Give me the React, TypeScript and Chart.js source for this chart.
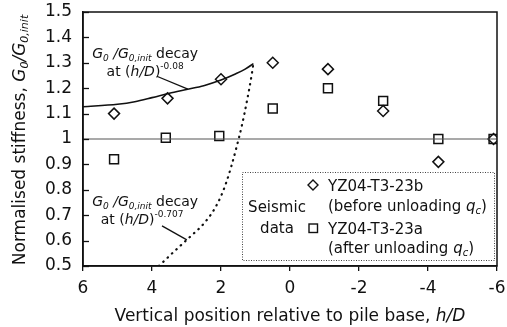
import React, { useEffect, useRef } from "react";
import { Chart, registerables } from "chart.js";

Chart.register(...registerables);

const FONT = "'DejaVu Sans', 'Liberation Sans', Arial, sans-serif";

// Axis ticks
const xTickValues = [6, 4, 2, 0, -2, -4, -6];
const xTickLabels = ["6", "4", "2", "0", "-2", "-4", "-6"];
const yTickValues = [0.5, 0.6, 0.7, 0.8, 0.9, 1.0, 1.1, 1.2, 1.3, 1.4, 1.5];
const yTickLabels = ["0.5", "0.6", "0.7", "0.8", "0.9", "1", "1.1", "1.2", "1.3", "1.4", "1.5"];

// Seismic data: YZ04-T3-23b (before unloading qc) — diamonds
const beforeX = [5.1, 3.55, 2.0, 0.5, -1.1, -2.7, -4.3, -5.9];
const beforeY = [1.10, 1.16, 1.235, 1.30, 1.275, 1.11, 0.91, 1.0];

// Seismic data: YZ04-T3-23a (after unloading qc) — squares
const afterX = [5.1, 3.6, 2.05, 0.5, -1.1, -2.7, -4.3, -5.9];
const afterY = [0.92, 1.005, 1.012, 1.12, 1.2, 1.15, 1.0, 1.0];

// Decay curve (h/D)^-0.08 (solid)
const decaySlowX = [6, 5, 4.5, 4, 3.5, 3, 2.5, 2, 1.6, 1.3, 1.06];
const decaySlowY = [1.127, 1.137, 1.147, 1.163, 1.18, 1.195, 1.21, 1.232, 1.255, 1.275, 1.297];

// Decay curve (h/D)^-0.707 (dotted)
const decayFastX = [3.8, 3.6, 3.4, 3.2, 3.0, 2.8, 2.6, 2.4, 2.2, 2.0, 1.85, 1.7, 1.55, 1.4, 1.25, 1.1, 1.07];
const decayFastY = [0.5, 0.526, 0.552, 0.577, 0.602, 0.627, 0.652, 0.683, 0.722, 0.775, 0.828, 0.893, 0.968, 1.05, 1.148, 1.262, 1.29];

// Reference level
const refX = [6, -6];
const refY = [1, 1];

// Annotation anchors (data coordinates)
const upperNoteAt = [4.2, 1.318];
const upperLeader = [[3.86, 1.247], [2.96, 1.196]];
const lowerNoteAt = [4.2, 0.737];
const lowerLeader = [[3.71, 0.658], [2.99, 0.603]];

type Seg = { t: string; s: number; i?: boolean; dy?: number };

function segFont(s: Seg) {
  return `${s.i ? "italic " : ""}${s.s}px ${FONT}`;
}
function richWidth(ctx: CanvasRenderingContext2D, segs: Seg[]) {
  let w = 0;
  for (const s of segs) {
    ctx.font = segFont(s);
    w += ctx.measureText(s.t).width;
  }
  return w;
}
function drawRich(ctx: CanvasRenderingContext2D, segs: Seg[], x: number, y: number, align: "left" | "center") {
  const w = richWidth(ctx, segs);
  let cx = align === "center" ? x - w / 2 : x;
  ctx.textAlign = "left";
  ctx.textBaseline = "alphabetic";
  for (const s of segs) {
    ctx.font = segFont(s);
    ctx.fillText(s.t, cx, y + (s.dy || 0));
    cx += ctx.measureText(s.t).width;
  }
}

function drawDiamond(ctx: CanvasRenderingContext2D, x: number, y: number, r: number) {
  ctx.beginPath();
  ctx.moveTo(x - r, y);
  ctx.lineTo(x, y - r);
  ctx.lineTo(x + r, y);
  ctx.lineTo(x, y + r);
  ctx.closePath();
  ctx.stroke();
}

const decoPlugin = {
  id: "deco",
  afterDraw(chart: any) {
    const ctx: CanvasRenderingContext2D = chart.ctx;
    const ca = chart.chartArea;
    const xs = chart.scales.x;
    const ys = chart.scales.y;
    ctx.save();
    ctx.fillStyle = "#111";
    ctx.strokeStyle = "#111";

    // frame
    ctx.lineWidth = 1.5;
    ctx.strokeRect(ca.left, ca.top, ca.right - ca.left, ca.bottom - ca.top);

    // inward y ticks
    ctx.lineWidth = 1.3;
    for (const v of yTickValues) {
      const py = Math.round(ys.getPixelForValue(v)) + 0.5;
      ctx.beginPath();
      ctx.moveTo(ca.left, py);
      ctx.lineTo(ca.left + 6, py);
      ctx.stroke();
    }

    // y title
    ctx.save();
    const yt: Seg[] = [
      { t: "Normalised stiffness, ", s: 17 },
      { t: "G", s: 17, i: true },
      { t: "0", s: 11, i: true, dy: 3 },
      { t: "/", s: 17, i: true },
      { t: "G", s: 17, i: true },
      { t: "0,init", s: 11, i: true, dy: 3 },
    ];
    ctx.translate(25, 140);
    ctx.rotate(-Math.PI / 2);
    drawRich(ctx, yt, 0, 0, "center");
    ctx.restore();

    // x title
    const xt: Seg[] = [
      { t: "Vertical position relative to pile base, ", s: 17 },
      { t: "h/D", s: 17, i: true },
    ];
    drawRich(ctx, xt, 290, 321, "center");

    // upper annotation
    const ux = xs.getPixelForValue(upperNoteAt[0]);
    const uy = ys.getPixelForValue(upperNoteAt[1]);
    drawRich(ctx, [
      { t: "G", s: 14, i: true },
      { t: "0", s: 9, i: true, dy: 3 },
      { t: " /", s: 14, i: true },
      { t: "G", s: 14, i: true },
      { t: "0,init", s: 9, i: true, dy: 3 },
      { t: " decay", s: 14 },
    ], ux, uy, "center");
    drawRich(ctx, [
      { t: "at (", s: 14 },
      { t: "h/D", s: 14, i: true },
      { t: ")", s: 14 },
      { t: "-0.08", s: 9, dy: -7 },
    ], ux, uy + 18, "center");
    ctx.lineWidth = 1.3;
    ctx.beginPath();
    ctx.moveTo(xs.getPixelForValue(upperLeader[0][0]), ys.getPixelForValue(upperLeader[0][1]));
    ctx.lineTo(xs.getPixelForValue(upperLeader[1][0]), ys.getPixelForValue(upperLeader[1][1]));
    ctx.stroke();

    // lower annotation
    const lx = xs.getPixelForValue(lowerNoteAt[0]);
    const ly = ys.getPixelForValue(lowerNoteAt[1]);
    drawRich(ctx, [
      { t: "G", s: 14, i: true },
      { t: "0", s: 9, i: true, dy: 3 },
      { t: " /", s: 14, i: true },
      { t: "G", s: 14, i: true },
      { t: "0,init", s: 9, i: true, dy: 3 },
      { t: " decay", s: 14 },
    ], lx, ly, "center");
    drawRich(ctx, [
      { t: "at (", s: 14 },
      { t: "h/D", s: 14, i: true },
      { t: ")", s: 14 },
      { t: "-0.707", s: 9, dy: -7 },
    ], lx - 3, ly + 18, "center");
    ctx.beginPath();
    ctx.moveTo(xs.getPixelForValue(lowerLeader[0][0]), ys.getPixelForValue(lowerLeader[0][1]));
    ctx.lineTo(xs.getPixelForValue(lowerLeader[1][0]), ys.getPixelForValue(lowerLeader[1][1]));
    ctx.stroke();

    // legend box
    const bx = 242.5, by = 172.5, bw = 252, bh = 88;
    ctx.fillStyle = "#fff";
    ctx.fillRect(bx, by, bw, bh);
    ctx.setLineDash([1, 1.5]);
    ctx.lineWidth = 1;
    ctx.strokeStyle = "#444";
    ctx.strokeRect(bx, by, bw, bh);
    ctx.setLineDash([]);
    ctx.fillStyle = "#111";
    ctx.strokeStyle = "#111";
    ctx.font = `15px ${FONT}`;
    ctx.textAlign = "center";
    ctx.textBaseline = "alphabetic";
    ctx.fillText("Seismic", 277, 212);
    ctx.fillText("data", 277, 233);
    ctx.lineWidth = 1.4;
    drawDiamond(ctx, 313, 185, 5);
    ctx.strokeRect(309, 224, 8.5, 8.5);
    drawRich(ctx, [{ t: "YZ04-T3-23b", s: 15 }], 328, 191, "left");
    drawRich(ctx, [
      { t: "(before unloading ", s: 15 },
      { t: "q", s: 15, i: true },
      { t: "c", s: 10, i: true, dy: 3 },
      { t: ")", s: 15 },
    ], 328, 211, "left");
    drawRich(ctx, [{ t: "YZ04-T3-23a", s: 15 }], 328, 234, "left");
    drawRich(ctx, [
      { t: "(after unloading ", s: 15 },
      { t: "q", s: 15, i: true },
      { t: "c", s: 10, i: true, dy: 3 },
      { t: ")", s: 15 },
    ], 328, 253, "left");

    ctx.restore();
  },
};

function pts(xs: number[], ys: number[]) {
  return xs.map((x, i) => ({ x, y: ys[i] }));
}

export default function App() {
  const ref = useRef<HTMLCanvasElement | null>(null);
  useEffect(() => {
    if (!ref.current) return;
    const chart = new Chart(ref.current, {
      type: "scatter",
      data: {
        datasets: [
          {
            label: "ref",
            data: pts(refX, refY),
            showLine: true,
            borderColor: "#555",
            borderWidth: 1.2,
            pointRadius: 0,
          },
          {
            label: "decay -0.08",
            data: pts(decaySlowX, decaySlowY),
            showLine: true,
            borderColor: "#111",
            borderWidth: 1.6,
            pointRadius: 0,
            cubicInterpolationMode: "monotone",
          },
          {
            label: "decay -0.707",
            data: pts(decayFastX, decayFastY),
            showLine: true,
            borderColor: "#111",
            borderWidth: 2.2,
            borderDash: [0.5, 5.5],
            borderCapStyle: "round",
            pointRadius: 0,
            cubicInterpolationMode: "monotone",
          },
          {
            label: "YZ04-T3-23b (before unloading qc)",
            data: pts(beforeX, beforeY),
            pointStyle: "rectRot",
            pointRadius: 5.5,
            borderColor: "#111",
            borderWidth: 1.5,
            backgroundColor: "rgba(0,0,0,0)",
          },
          {
            label: "YZ04-T3-23a (after unloading qc)",
            data: pts(afterX, afterY),
            pointStyle: "rect",
            pointRadius: 6.3,
            borderColor: "#111",
            borderWidth: 1.5,
            backgroundColor: "rgba(0,0,0,0)",
          },
        ],
      } as any,
      options: {
        animation: false,
        responsive: false,
        devicePixelRatio: 1,
        layout: { padding: { top: 12, right: 10, left: 0, bottom: 0 } },
        plugins: { legend: { display: false }, tooltip: { enabled: false } },
        scales: {
          x: {
            type: "linear",
            min: -6,
            max: 6,
            reverse: true,
            afterFit: (s: any) => {
              s.height = 61;
              s.paddingLeft = 0;
              s.paddingRight = 0;
              s.paddingTop = 0;
              s.paddingBottom = 0;
            },
            afterBuildTicks: (s: any) => { s.ticks = xTickValues.map((v) => ({ value: v })); },
            grid: { drawOnChartArea: false, drawTicks: true, tickLength: 5, color: "#111", lineWidth: 1.3 },
            border: { display: true, color: "#111", width: 1.5 },
            ticks: {
              color: "#111",
              font: { family: FONT, size: 17 },
              padding: 7,
              maxRotation: 0,
              autoSkip: false,
              callback: (_v: any, i: number) => xTickLabels[i],
            },
          },
          y: {
            type: "linear",
            min: 0.5,
            max: 1.5,
            afterFit: (s: any) => {
              s.width = 83;
              s.paddingTop = 0;
              s.paddingBottom = 0;
              s.paddingLeft = 0;
              s.paddingRight = 0;
            },
            afterBuildTicks: (s: any) => { s.ticks = yTickValues.map((v) => ({ value: v })); },
            grid: { drawOnChartArea: false, drawTicks: false },
            border: { display: true, color: "#111", width: 1.5 },
            ticks: {
              color: "#111",
              font: { family: FONT, size: 17 },
              padding: 11,
              autoSkip: false,
              callback: (_v: any, i: number) => yTickLabels[i],
            },
          },
        },
      } as any,
      plugins: [decoPlugin],
    });
    return () => chart.destroy();
  }, []);
  return (
    <div style={{ position: "fixed", left: 0, top: 0, width: 507, height: 327, background: "#fff" }}>
      <canvas ref={ref} width={507} height={327} style={{ width: 507, height: 327 }} />
    </div>
  );
}
